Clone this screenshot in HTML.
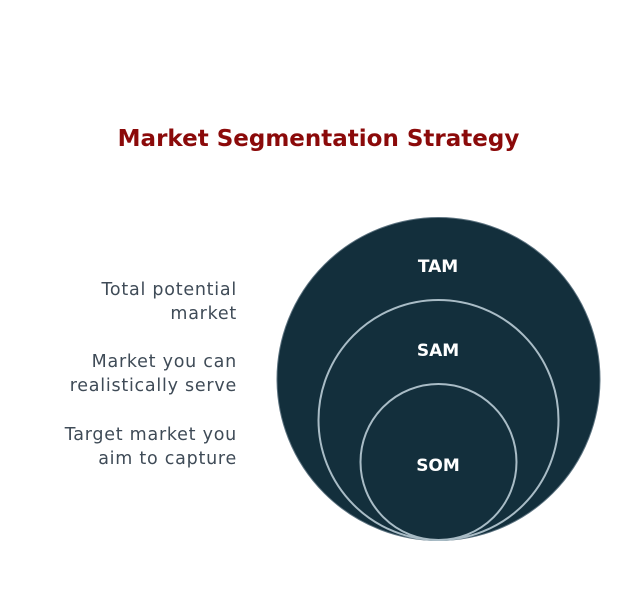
<!DOCTYPE html>
<html><head><style>
body{margin:0;width:637px;height:613px;background:#fff;font-family:"DejaVu Sans","Liberation Sans",sans-serif;overflow:hidden}
.t{position:absolute;left:0;width:637px;text-align:center;top:126px;font-size:23px;font-weight:bold;color:#8b0a0a}
.l{position:absolute;right:400px;text-align:right;font-size:17.5px;line-height:24px;color:#3f4b57;letter-spacing:0.75px;white-space:nowrap}
</style></head><body>
<div class="t">Market Segmentation Strategy</div>
<div class="l" style="top:278px">Total potential<br>market</div>
<div class="l" style="top:350px">Market you can<br>realistically serve</div>
<div class="l" style="top:423px">Target market you<br>aim to capture</div>
<svg width="637" height="613" style="position:absolute;left:0;top:0">
<circle cx="438.5" cy="379" r="161.5" fill="#132f3c" stroke="#5d7380" stroke-width="1"/>
<circle cx="438.5" cy="420" r="120" fill="#132f3c" stroke="#a9bcc6" stroke-width="2"/>
<circle cx="438.5" cy="462" r="78" fill="#132f3c" stroke="#a9bcc6" stroke-width="2"/>
<g font-family="DejaVu Sans,sans-serif" font-weight="bold" font-size="17" fill="#fff" text-anchor="middle">
<text x="438" y="272">TAM</text>
<text x="438" y="356">SAM</text>
<text x="438" y="471">SOM</text>
</g>
</svg>
</body></html>
